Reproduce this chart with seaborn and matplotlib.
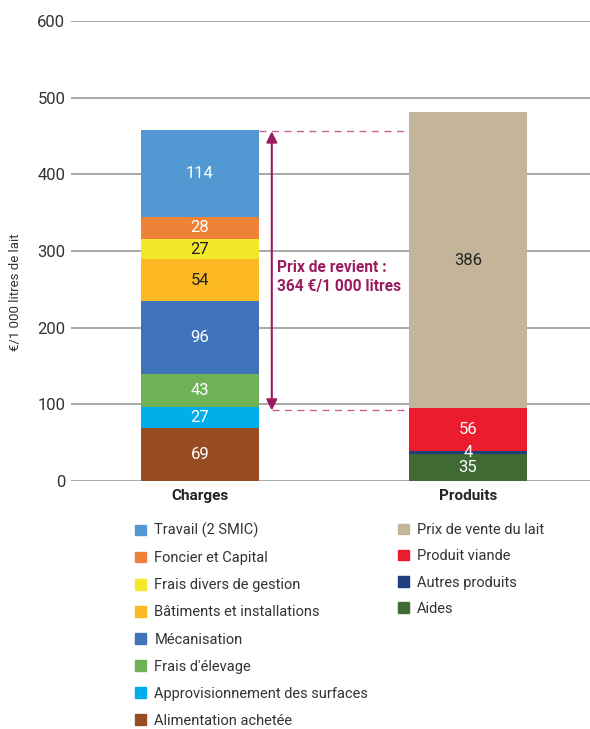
import seaborn as sns
import matplotlib.pyplot as plt
import pandas as pd
from matplotlib.patches import Patch

# données (€/1 000 litres de lait)
bars = ['Charges', 'Produits']

charges_labels = ['Alimentation achetée', 'Approvisionnement des surfaces', "Frais d'élevage",
                  'Mécanisation', 'Bâtiments et installations', 'Frais divers de gestion',
                  'Foncier et Capital', 'Travail (2 SMIC)']
charges_values = [69, 27, 43, 96, 54, 27, 28, 114]
charges_colors = ['#974c22', '#00aeea', '#6eb156', '#3f73ba', '#fdb924', '#f3e92a', '#f08237', '#5299d3']
charges_txt = ['white', 'white', 'white', 'white', '#222222', '#222222', 'white', 'white']

produits_labels = ['Aides', 'Autres produits', 'Produit viande', 'Prix de vente du lait']
produits_values = [35, 4, 56, 386]
produits_colors = ['#3f6a34', '#1f3f7a', '#ec1c2f', '#c4b49a']
produits_txt = ['white', 'white', 'white', '#222222']

prix_de_revient = 364

rows = []
for bar, labels, values, colors, txt in [
        ('Charges', charges_labels, charges_values, charges_colors, charges_txt),
        ('Produits', produits_labels, produits_values, produits_colors, produits_txt)]:
    cum = 0
    for lab, v, c, t in zip(labels, values, colors, txt):
        rows.append({'bar': bar, 'segment': lab, 'value': v, 'bottom': cum,
                     'top': cum + v, 'color': c, 'txt': t})
        cum += v
df = pd.DataFrame(rows)

sns.set_style('white')
plt.rcParams['font.family'] = ['Roboto', 'DejaVu Sans']

fig = plt.figure(figsize=(5.9, 7.29), dpi=100)
ax = fig.add_axes([71 / 590, 1 - 481 / 729, 519 / 590, 460 / 729])

bar_w = 0.44
# barres empilées : on trace les cumuls du plus haut au plus bas
for _, r in df.sort_values('top', ascending=False).iterrows():
    sns.barplot(data=pd.DataFrame([r]), x='bar', y='top', order=bars, color=r['color'],
                saturation=1, width=bar_w, linewidth=0, errorbar=None, ax=ax)

for _, r in df.iterrows():
    ax.text(bars.index(r['bar']), (r['bottom'] + r['top']) / 2, str(r['value']),
            ha='center', va='center', color=r['txt'], fontsize=12)

# prix de revient
total_charges = sum(charges_values)
low = total_charges - prix_de_revient
arrow_x = 0.268
dash_col = '#c8609a'
ax.hlines(total_charges - 2, bar_w / 2, 1 - bar_w / 2, colors=dash_col, linestyles=(0, (5, 4)), lw=1)
ax.hlines(low - 2, arrow_x, 1 - bar_w / 2, colors=dash_col, linestyles=(0, (5, 4)), lw=1)
ax.annotate('', xy=(arrow_x, total_charges - 2), xytext=(arrow_x, low - 2),
            arrowprops=dict(arrowstyle='<|-|>', color='#9b1b5f', lw=1.5,
                            mutation_scale=16, shrinkA=0, shrinkB=0))
ax.text(0.286, 266, 'Prix de revient :\n364 €/1 000 litres', color='#9b1b5f',
        fontsize=11.2, fontweight='bold', ha='left', va='center', linespacing=1.3)

ax.set_xlim(-0.481, 1.455)
ax.set_ylim(0, 600)
ax.set_yticks(range(0, 601, 100))
ax.yaxis.grid(True, color='#a8a8a8', lw=1.4)
ax.set_axisbelow(True)
sns.despine(ax=ax, left=True, bottom=True)
ax.tick_params(axis='y', length=0, pad=4, labelsize=12, labelcolor='#333333')
ax.tick_params(axis='x', length=0, pad=6)
ax.set_xticks(range(len(bars)))
ax.set_xticklabels(bars, fontsize=11, fontweight='bold', color='#222222')
ax.set_xlabel('')
ax.set_ylabel('€/1 000 litres de lait', fontsize=9.5, color='#333333')
ax.yaxis.set_label_coords(-0.094, 0.41)

# légendes
h_left = [Patch(color=c, label=l) for l, c in zip(charges_labels[::-1], charges_colors[::-1])]
h_right = [Patch(color=c, label=l) for l, c in zip(produits_labels[::-1], produits_colors[::-1])]
common = dict(frameon=False, fontsize=10.5, handlelength=0.72, handleheight=0.72,
              handletextpad=0.6, borderpad=0, borderaxespad=0, labelcolor='#333333')
leg1 = fig.legend(handles=h_left, loc='upper left', bbox_to_anchor=(135 / 590, 1 - 523 / 729),
                  labelspacing=0.895, **common)
leg2 = fig.legend(handles=h_right, loc='upper left', bbox_to_anchor=(398 / 590, 1 - 523 / 729),
                  labelspacing=0.84, **common)

fig.savefig('out.png', dpi=100)
